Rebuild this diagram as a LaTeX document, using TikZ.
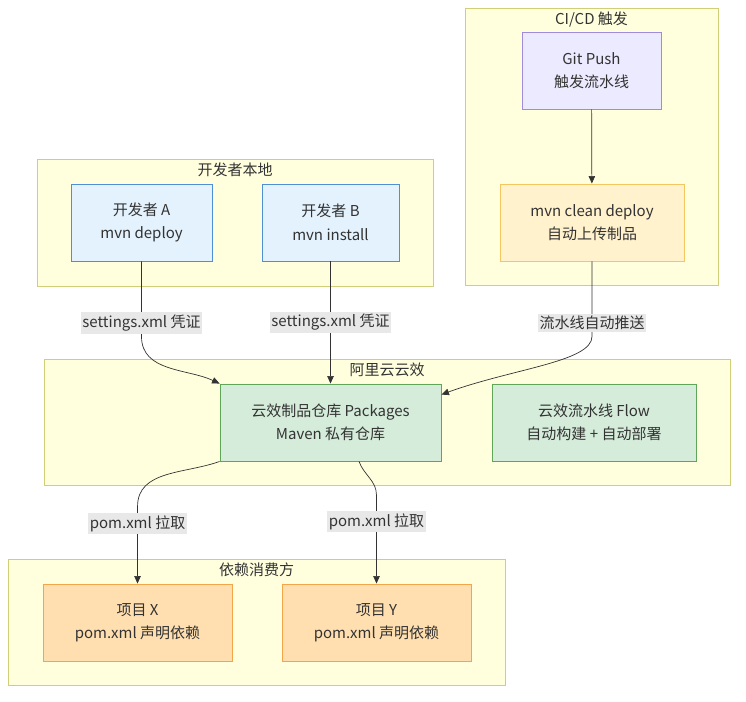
\documentclass[tikz,border=0pt]{standalone}
\usepackage{fontspec}
\setmainfont{Noto Sans CJK SC}
\usepackage{tikz}
\usetikzlibrary{arrows.meta,positioning}
\definecolor{grpfill}{HTML}{FFFFDE}
\definecolor{grpline}{HTML}{CFCF78}
\definecolor{txt}{HTML}{333333}
\definecolor{edgecol}{HTML}{333333}
\definecolor{lblbg}{HTML}{E8E8E8}
\definecolor{devfill}{HTML}{E3F2FD}
\definecolor{devline}{HTML}{4F8FD6}
\definecolor{gitfill}{HTML}{ECEAFE}
\definecolor{gitline}{HTML}{A08CDC}
\definecolor{buildfill}{HTML}{FFF2CC}
\definecolor{buildline}{HTML}{F2C661}
\definecolor{cloudfill}{HTML}{D5ECDA}
\definecolor{cloudline}{HTML}{5FA55A}
\definecolor{projfill}{HTML}{FFDFB0}
\definecolor{projline}{HTML}{F3A54A}
\tikzset{
  >=Stealth,
  grp/.style={rectangle, draw=grpline, fill=grpfill, line width=0.9pt},
  grpttl/.style={text=txt, font=\fontsize{15}{18}\selectfont, inner sep=1pt},
  box/.style={rectangle, draw, line width=0.9pt, minimum height=77pt, align=center, text=txt, font=\fontsize{15}{23.5}\selectfont},
  elbl/.style={fill=lblbg, text=txt, font=\fontsize{15}{18}\selectfont, inner xsep=1.5pt, inner ysep=2.5pt}
}

\begin{document}
\begin{tikzpicture}[x=1pt, y=1pt,
        dev/.style={box, draw=devline, fill=devfill},
        trigger/.style={box, draw=gitline, fill=gitfill},
        build/.style={box, draw=buildline, fill=buildfill},
        cloud/.style={box, draw=cloudline, fill=cloudfill},
        proj/.style={box, draw=projline, fill=projfill, minimum width=189pt},
        arrow/.style={-{Triangle[length=7.5pt,width=6.5pt,fill=edgecol]}, draw=edgecol, line width=0.7pt}
    ]
    \useasboundingbox (0,0) rectangle (746,701);
    % groups
    \node[grp, minimum width=396pt, minimum height=127pt] (local) at (235,478.5) {};
    \node[grpttl, below=3pt of local.north] (localttl) {开发者本地};
    \node[grp, minimum width=253pt, minimum height=277pt] (cicd) at (591.5,554.5) {};
    \node[grpttl, below=3pt of cicd.north] (cicdttl) {CI/CD 触发};
    \node[grp, minimum width=686pt, minimum height=126pt] (yunxiao) at (387,279) {};
    \node[grpttl, below=3pt of yunxiao.north] (yunxiaottl) {阿里云云效};
    \node[grp, minimum width=497pt, minimum height=126pt] (consumer) at (256.5,79) {};
    \node[grpttl, below=3pt of consumer.north] (consumerttl) {依赖消费方};
    % nodes
    \node[dev, minimum width=141pt] (devA) at (141.5,478.5) {开发者 A\\mvn deploy};
    \node[dev, minimum width=137pt] (devB) at (330.5,478.5) {开发者 B\\mvn install};
    \node[trigger, minimum width=139pt] (push) at (591.5,630.5) {Git Push\\触发流水线};
    \node[build, minimum width=184pt] (deploy) at (592,478.5) {mvn clean deploy\\自动上传制品};
    \node[cloud, minimum width=221pt] (pkg) at (330.5,278.5) {云效制品仓库 Packages\\Maven 私有仓库};
    \node[cloud, minimum width=204pt] (flow) at (594,278.5) {云效流水线 Flow\\自动构建 + 自动部署};
    \node[proj] (prjX) at (137.5,78.5) {项目 X\\pom.xml 声明依赖};
    \node[proj] (prjY) at (376.5,78.5) {项目 Y\\pom.xml 声明依赖};
    % edges
    \draw[arrow] (push) -- (deploy);
    \draw[arrow] (devA.south) -- node[elbl, pos=0.82] {settings.xml 凭证} ++(0,-75)
        to[out=-90, in=155] (pkg.north west);
    \draw[arrow] (devB) -- node[elbl] {settings.xml 凭证} (pkg);
    \draw[arrow] (deploy.south) -- node[elbl, pos=0.82] {流水线自动推送} ++(0,-75)
        to[out=-90, in=20, out looseness=0.4, in looseness=1.2] ([yshift=-11pt]pkg.north east);
    \draw[arrow] (pkg.south west) to[out=200, in=90] ++(-82,-45)
        -- node[elbl, pos=0.22] {pom.xml 拉取} (prjX.north);
    \draw[arrow] ([xshift=28.5pt]pkg.south) to[out=-70, in=90] ++(17.5,-34)
        -- node[elbl, pos=0.3] {pom.xml 拉取} (prjY.north);
\end{tikzpicture}
\end{document}
